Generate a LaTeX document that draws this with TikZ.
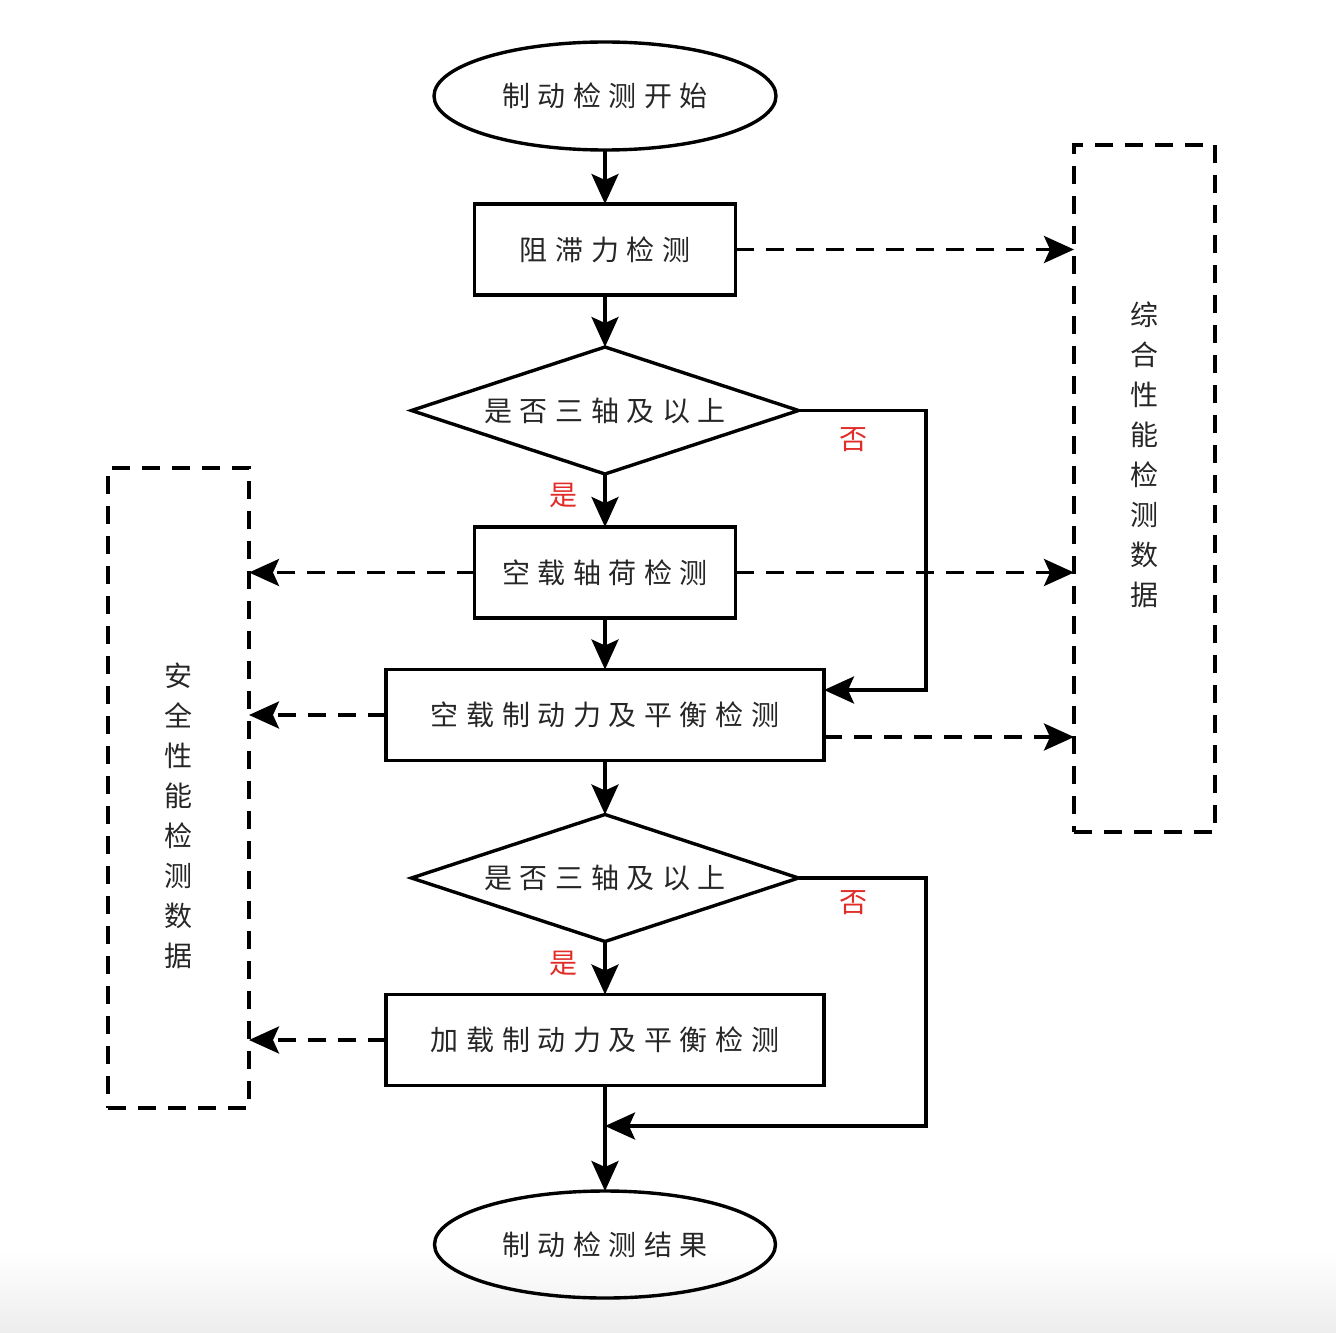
\documentclass[tikz,border=0pt]{standalone}
\usepackage{fontspec}
\usetikzlibrary{shapes.geometric,arrows.meta}
\newfontfamily\cjk[LetterSpace=27]{Noto Sans CJK SC}
\newfontfamily\cjkv{Noto Sans CJK SC}
\definecolor{lblred}{RGB}{225,45,40}
\begin{document}
\begin{tikzpicture}[x=0.5pt,y=-0.5pt,
  every node/.style={inner sep=0pt, outer sep=0pt},
  txt/.style={font=\cjk\fontsize{14}{16}\selectfont, text=black!85},
  vtxt/.style={font=\cjkv\fontsize{14}{20}\selectfont, text=black!85, align=center},
  redl/.style={font=\cjkv\fontsize{14}{16}\selectfont, text=lblred},
  pbox/.style={draw, line width=1.7pt, rectangle, minimum width=#1, minimum height=45.5pt},
  pbox/.default=130.5pt,
  term/.style={draw, line width=1.7pt, ellipse, minimum width=171pt, minimum height=54pt},
  dec/.style={draw, line width=1.7pt, diamond, minimum width=193.5pt, minimum height=63.5pt},
  dbox/.style={draw, line width=1.7pt, dash pattern=on 9pt off 6pt, rectangle, minimum width=70.5pt, minimum height=#1},
  flow/.style={line width=1.7pt, -{Stealth[length=15pt,width=13.5pt,inset=3pt]}},
  dflow/.style={flow, dash pattern=on 9pt off 6pt}
]
\useasboundingbox (0,0) rectangle (1336,1332);
\shade[top color=white, bottom color=black!7] (0,1250) rectangle (1336,1332);

\node[term] (start) at (605,96) {};
\node[txt] at (start) {制动检测开始};

\node[pbox] (r1) at (605,249.5) {};
\node[txt] at (r1) {阻滞力检测};

\node[dec] (d1) at (605,410.5) {};
\node[txt] at (d1) {是否三轴及以上};

\node[pbox] (r2) at (605,572.5) {};
\node[txt] at (r2) {空载轴荷检测};

\node[pbox=219pt] (r3) at (605,715) {};
\node[txt] at (r3) {空载制动力及平衡检测};

\node[dec] (d2) at (605,878) {};
\node[txt] at (d2) {是否三轴及以上};

\node[pbox=219pt] (r4) at (605,1040) {};
\node[txt] at (r4) {加载制动力及平衡检测};

\node[term, minimum width=170.5pt, minimum height=53.5pt] (end) at (605,1244.5) {};
\node[txt] at (end) {制动检测结果};

\node[dbox=343.5pt] (rb) at (1144.5,488.5) {};
\node[vtxt] (rbt) at (1144,455) {综\\合\\性\\能\\检\\测\\数\\据};

\node[dbox=320pt] (lb) at (178.5,788) {};
\node[vtxt] (lbt) at (178,816) {安\\全\\性\\能\\检\\测\\数\\据};

\node[redl] (no1) at (853,440) {否};
\node[redl] (yes1) at (563,495) {是};
\node[redl] (no2) at (853,903) {否};
\node[redl] (yes2) at (563,963) {是};

% main flow
\draw[flow] (start.south) -- (r1.north);
\draw[flow] (r1.south) -- (d1.north);
\draw[flow] (d1.south) -- (r2.north);
\draw[flow] (r2.south) -- (r3.north);
\draw[flow] (r3.south) -- (d2.north);
\draw[flow] (d2.south) -- (r4.north);
\draw[flow] (r4.south) -- (end.north);

% no branches
\coordinate (c1) at (926,410.5);
\coordinate (c2) at (926,690);
\draw[flow] (d1.east) -- (c1) -- (c2) -- (r3.east |- c2);
\coordinate (c3) at (926,878);
\coordinate (c4) at (926,1126);
\coordinate (j) at (605,1126);
\draw[flow] (d2.east) -- (c3) -- (c4) -- (j);

% data arrows
\draw[dflow] (r1.east) -- (rb.west |- r1.east);
\draw[dflow] (r2.east) -- (rb.west |- r2.east);
\coordinate (r3o) at ([yshift=-11pt]r3.east);
\draw[dflow] (r3o) -- (rb.west |- r3o);
\draw[dflow] (r2.west) -- (lb.east |- r2.west);
\draw[dflow] (r3.west) -- (lb.east |- r3.west);
\draw[dflow] (r4.west) -- (lb.east |- r4.west);
\end{tikzpicture}
\end{document}
